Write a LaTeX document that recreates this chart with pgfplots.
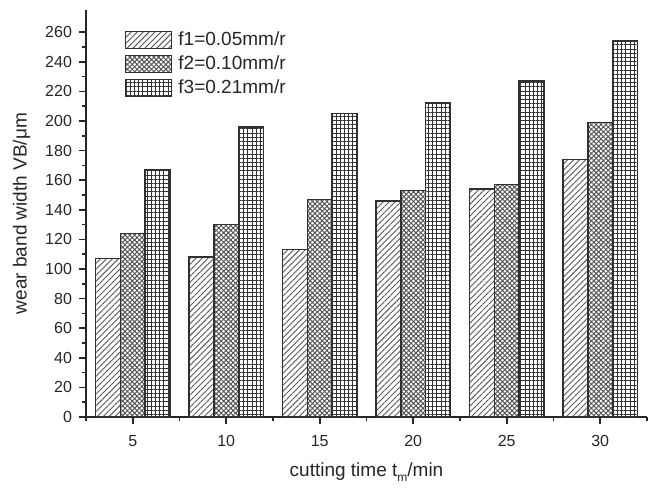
\documentclass[border=0pt]{standalone}
\usepackage{fontspec}
\setmainfont{Liberation Sans}
\usepackage{pgfplots}
\pgfplotsset{compat=1.18}
\usetikzlibrary{patterns.meta}
\definecolor{Ink}{HTML}{303030}
\definecolor{Hatch}{HTML}{555555}

\pgfplotsset{
  wearbar/.style={draw=Ink,line width=0.75pt},
  fone/.style={wearbar,pattern={Lines[angle=45,distance=2.1pt,line width=0.45pt]},pattern color=Hatch},
  ftwo/.style={wearbar,pattern={Hatch[angle=45,distance=1.7pt,line width=0.5pt]},pattern color=Hatch},
  fthree/.style={wearbar,pattern={Hatch[angle=0,distance=2.1pt,line width=0.45pt]},pattern color=black!80},
}

\begin{document}
\begin{tikzpicture}
\begin{axis}[
  width=280.5pt,height=203.5pt,scale only axis,
  xmin=2.5,xmax=32.5,ymin=0,ymax=275,
  axis lines=left,
  axis line style={-,line width=1pt,color=black!85},
  ybar=0pt,bar width=1.33,
  xtick={5,10,15,20,25,30},
  minor xtick={2.5,7.5,12.5,17.5,22.5,27.5,32.5},
  ytick={0,20,...,260},
  minor y tick num=1,
  tick align=outside,
  major tick length=3.5pt,minor tick length=2pt,
  tick style={line width=0.8pt,color=black!85},
  /pgf/number format/assume math mode=true,
  tick label style={font=\fontsize{8}{9}\selectfont,color=black!85},
  xticklabel style={yshift=-2pt},
  xlabel={cutting time t\raisebox{-0.45ex}{\fontsize{6}{6}\selectfont m}/min},
  ylabel={wear band width VB/μm},
  label style={font=\fontsize{9.5}{11}\selectfont,color=black!85},
  xlabel style={at={(axis description cs:0.5,-0.147)},anchor=base},
  ylabel style={at={(axis description cs:-0.115,0.5)},anchor=center},
  legend style={at={(0.058,0.96)},anchor=north west,draw=none,fill=none,
    font=\fontsize{9.5}{11}\selectfont,row sep=2.6pt,
    nodes={inner sep=0.5pt,text=black!85}},
  legend cell align=left,
  legend image code/.code={\draw[#1] (0pt,-4.25pt) rectangle (23pt,4.25pt);
    \path (25.5pt,0pt);},
  clip=false,
]
\addplot[fone] coordinates {(5,107) (10,108) (15,113) (20,146) (25,154) (30,174)};
\addplot[ftwo] coordinates {(5,124) (10,130) (15,147) (20,153) (25,157) (30,199)};
\addplot[fthree] coordinates {(5,167) (10,196) (15,205) (20,212) (25,227) (30,254)};
\legend{f1=0.05mm/r,f2=0.10mm/r,f3=0.21mm/r}
\end{axis}
\pgfresetboundingbox
\path[use as bounding box] (-43pt,-36.5pt) rectangle (284pt,208.5pt);
\end{tikzpicture}
\end{document}
